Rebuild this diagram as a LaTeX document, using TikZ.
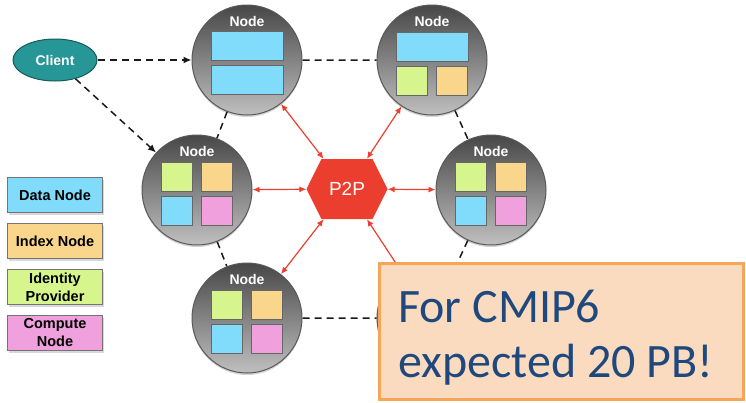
\documentclass[tikz,border=0pt]{standalone}
\usepackage{fontspec}
\setmainfont{Liberation Sans}
\newfontfamily\calibri{Carlito}
\usetikzlibrary{shapes.geometric,shapes.symbols,shadows,arrows.meta}
\definecolor{dblue}{RGB}{128,220,250}
\definecolor{iorange}{RGB}{250,214,140}
\definecolor{idgreen}{RGB}{214,245,140}
\definecolor{cpink}{RGB}{240,160,220}
\definecolor{clientteal}{RGB}{38,150,150}
\definecolor{p2pred}{RGB}{236,62,46}
\definecolor{notefill}{RGB}{251,219,192}
\definecolor{noteline}{RGB}{247,166,88}
\definecolor{notetext}{RGB}{31,73,125}
\tikzset{
  srv/.style={circle, minimum size=110pt, inner sep=0pt, draw=black!65, line width=1pt,
    top color=black!72, bottom color=black!25,
    drop shadow={opacity=0.35, shadow xshift=0pt, shadow yshift=-2pt}},
  srvtxt/.style={text=white, inner sep=0pt, font=\bfseries\fontsize{14}{16}\selectfont},
  inbox/.style={draw=black!60, line width=0.8pt, minimum height=29pt, inner sep=0pt},
  wide/.style={inbox, fill=dblue, minimum width=72pt},
  sqr/.style={inbox, minimum width=31pt},
  keybox/.style={draw=black!55, line width=0.8pt, minimum width=95pt, minimum height=35pt,
    inner sep=1pt, align=center, font=\bfseries\fontsize{14.5}{18}\selectfont,
    drop shadow={opacity=0.3, shadow xshift=1pt, shadow yshift=-2pt}},
  ring/.style={dash pattern=on 7pt off 5pt, line width=1.5pt, black!90},
  p2plink/.style={{Latex[length=7pt,width=6pt]}-{Latex[length=7pt,width=6pt]}, p2pred, line width=1.2pt},
  cmipbox/.style={draw=noteline, fill=notefill, line width=3pt, minimum width=364pt, minimum height=136pt},
  cmiptext/.style={text=notetext, inner sep=0pt, align=left, font=\calibri\fontsize{48}{55}\selectfont}
}
\begin{document}
\begin{tikzpicture}[x=1pt,y=-1pt]
\useasboundingbox (0,0) rectangle (746,402);

\node[ellipse, minimum width=84pt, minimum height=42pt, inner sep=0pt, fill=clientteal,
  draw=clientteal!60!black, line width=1pt, text=white, font=\bfseries\fontsize{14}{16}\selectfont] (client) at (55,60) {Client};

\foreach \n/\x/\y in {n1/247/60, n2/432/60, n3/197/190, n4/491/190, n5/247/318, n6/432/318}
  \node[srv] (\n) at (\x,\y) {};
\foreach \n in {n1,n2,n3,n4,n5,n6}
  \node[srvtxt] (\n-t) at ([yshift=39pt]\n) {Node};

\node[wide] (n1-a) at ([yshift=14pt]n1) {};
\node[wide] (n1-b) at ([yshift=-20pt]n1) {};
\node[wide] (n2-a) at ([yshift=13pt]n2) {};
\node[sqr, fill=idgreen] (n2-g) at ([xshift=-20pt,yshift=-21pt]n2) {};
\node[sqr, fill=iorange] (n2-o) at ([xshift=20pt,yshift=-21pt]n2) {};
\foreach \n in {n3,n4,n5,n6} {
  \node[sqr, fill=idgreen] (\n-g) at ([xshift=-20pt,yshift=13pt]\n) {};
  \node[sqr, fill=iorange] (\n-o) at ([xshift=20pt,yshift=13pt]\n) {};
  \node[sqr, fill=dblue] (\n-b) at ([xshift=-20pt,yshift=-21pt]\n) {};
  \node[sqr, fill=cpink] (\n-p) at ([xshift=20pt,yshift=-21pt]\n) {};
}

\node[signal, signal from=nowhere, signal to=east and west, signal pointer angle=127,
  minimum width=81pt, minimum height=60pt, inner sep=0pt, fill=p2pred, text=white,
  font=\fontsize{19}{22}\selectfont] (p2p) at (347,189) {P2P};

\draw[ring, -{Latex[length=8pt,width=7pt]}] (client) -- (n1);
\draw[ring, -{Latex[length=8pt,width=7pt]}] (client) -- (n3);
\draw[ring] (n1) -- (n2) (n1) -- (n3) (n2) -- (n4) (n3) -- (n5) (n4) -- (n6) (n5) -- (n6);
\foreach \n in {n1,n2,n3,n4,n5,n6}
  \draw[p2plink] (\n) -- (p2p);

\node[keybox, fill=dblue] (kdata) at (55,195) {Data Node};
\node[keybox, fill=iorange] (kindex) at (55,241) {Index Node};
\node[keybox, fill=idgreen] (kid) at (55,287) {Identity\\Provider};
\node[keybox, fill=cpink] (kcomp) at (55,333) {Compute\\Node};

\node[cmipbox] (cmip) at (561.5,331.5) {};
\node[cmiptext, anchor=north west] (cmipt) at (398,290) {For CMIP6\\expected 20 PB!};
\end{tikzpicture}
\end{document}
